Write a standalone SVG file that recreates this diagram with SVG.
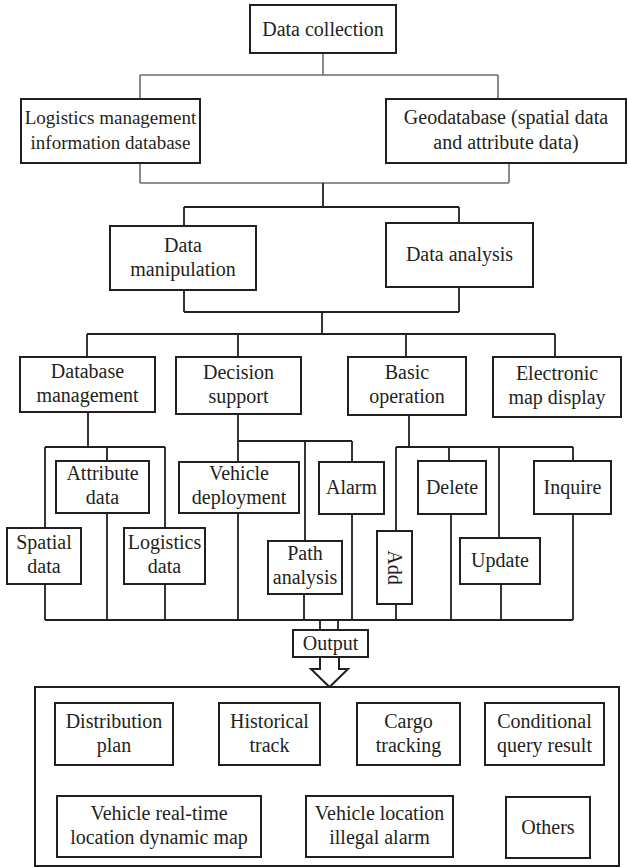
<svg xmlns="http://www.w3.org/2000/svg" width="629" height="867" viewBox="0 0 629 867">
<style>
.b{fill:#fff;stroke:#231f20;stroke-width:2}
.t{font-family:"Liberation Serif","Times New Roman",serif;font-size:20px;fill:#231f20;text-anchor:middle}
.s{font-size:19px}
.c{fill:none;stroke:#231f20;stroke-width:1.8}
.g{fill:none;stroke:#6d6e71;stroke-width:1.6}
</style>
<rect width="629" height="867" fill="#fff"/>
<g id="connectors">
<path class="g" d="M323 53V75M140 75H498M140 75V99M498 75V99"/>
<path class="g" d="M140 163V183M509 163V183M140 183H509"/>
<path class="c" d="M323 183V207M184 207H459M184 207V226M459 207V223"/>
<path class="c" d="M184 290V312M459 287V312M184 312H459M322 312V334"/>
<path class="c" d="M87 334H555M87 334V357M238 334V357M406 334V357M555 334V357"/>
<path class="c" d="M88 412V447M45 447H165M45 447V528M107 447V461M165 447V528"/>
<path class="c" d="M45 584V620M107 513V620M165 584V620"/>
<path class="c" d="M238 414V462M238 441H352M305 441V541M352 441V462M238 513V620M304 594V620M352 514V620"/>
<path class="c" d="M409 415V447M396 447H573M396 447V531M449 447V461M499 447V538M573 447V461"/>
<path class="c" d="M396 604V620M451 514V620M501 584V620M573 514V620"/>
<path class="c" d="M45 620H573M320 620V630M338 620V630"/>
<polygon class="b" points="320,657 339,657 339,669 348,669 329.5,687 311,669 320,669"/>
</g>
<g id="data-collection"><rect class="b" x="250" y="5" width="146" height="48"/><text class="t" x="323" y="36">Data collection</text></g>
<g id="logistics-db"><rect class="b" x="21" y="99" width="179" height="64"/><text class="t s" x="110.5" y="124">Logistics management</text><text class="t s" x="110.5" y="149">information database</text></g>
<g id="geodatabase"><rect class="b" x="386" y="99" width="240" height="64"/><text class="t" x="506" y="124">Geodatabase (spatial data</text><text class="t" x="506" y="149">and attribute data)</text></g>
<g id="data-manipulation"><rect class="b" x="110" y="226" width="146" height="64"/><text class="t" x="183" y="252">Data</text><text class="t" x="183" y="276">manipulation</text></g>
<g id="data-analysis"><rect class="b" x="386" y="223" width="147" height="64"/><text class="t" x="459.5" y="261">Data analysis</text></g>
<g id="database-management"><rect class="b" x="20" y="357" width="135" height="55"/><text class="t" x="87.5" y="378">Database</text><text class="t" x="87.5" y="402">management</text></g>
<g id="decision-support"><rect class="b" x="176" y="357" width="125" height="57"/><text class="t" x="238.5" y="379">Decision</text><text class="t" x="238.5" y="403">support</text></g>
<g id="basic-operation"><rect class="b" x="348" y="357" width="118" height="58"/><text class="t" x="407" y="379">Basic</text><text class="t" x="407" y="403">operation</text></g>
<g id="electronic-map"><rect class="b" x="493" y="357" width="128" height="60"/><text class="t" x="557" y="380">Electronic</text><text class="t" x="557" y="404">map display</text></g>
<g id="attribute-data"><rect class="b" x="56" y="461" width="93" height="52"/><text class="t" x="102.5" y="480">Attribute</text><text class="t" x="102.5" y="504">data</text></g>
<g id="spatial-data"><rect class="b" x="7" y="528" width="74" height="56"/><text class="t" x="44" y="549">Spatial</text><text class="t" x="44" y="573">data</text></g>
<g id="logistics-data"><rect class="b" x="124" y="528" width="81" height="56"/><text class="t" x="164.5" y="549">Logistics</text><text class="t" x="164.5" y="573">data</text></g>
<g id="vehicle-deployment"><rect class="b" x="179" y="462" width="120" height="51"/><text class="t" x="239" y="480">Vehicle</text><text class="t" x="239" y="504">deployment</text></g>
<g id="path-analysis"><rect class="b" x="268" y="541" width="74" height="53"/><text class="t" x="305" y="560">Path</text><text class="t" x="305" y="584">analysis</text></g>
<g id="alarm"><rect class="b" x="319" y="462" width="65" height="52"/><text class="t" x="351.5" y="494">Alarm</text></g>
<g id="add"><rect class="b" x="377" y="531" width="35" height="73"/><text class="t" transform="translate(394.5 567.5) rotate(90)" x="0" y="6.5">Add</text></g>
<g id="delete"><rect class="b" x="418" y="461" width="68" height="53"/><text class="t" x="452" y="494">Delete</text></g>
<g id="update"><rect class="b" x="460" y="538" width="80" height="46"/><text class="t" x="500" y="567">Update</text></g>
<g id="inquire"><rect class="b" x="534" y="461" width="77" height="53"/><text class="t" x="572.5" y="494">Inquire</text></g>
<g id="output"><rect class="b" x="293" y="630" width="75" height="27"/><text class="t" x="330.5" y="650">Output</text></g>
<g id="output-panel"><rect class="b" x="35" y="687" width="584" height="179"/></g>
<g id="distribution-plan"><rect class="b" x="55" y="703" width="118" height="62"/><text class="t" x="114" y="728">Distribution</text><text class="t" x="114" y="752">plan</text></g>
<g id="historical-track"><rect class="b" x="219" y="703" width="101" height="62"/><text class="t" x="269.5" y="728">Historical</text><text class="t" x="269.5" y="752">track</text></g>
<g id="cargo-tracking"><rect class="b" x="357" y="703" width="103" height="62"/><text class="t" x="408.5" y="728">Cargo</text><text class="t" x="408.5" y="752">tracking</text></g>
<g id="conditional-query"><rect class="b" x="485" y="703" width="119" height="62"/><text class="t" x="544.5" y="728">Conditional</text><text class="t" x="544.5" y="752">query result</text></g>
<g id="vehicle-realtime"><rect class="b" x="57" y="796" width="204" height="61"/><text class="t" x="159" y="820">Vehicle real-time</text><text class="t" x="159" y="844">location dynamic map</text></g>
<g id="vehicle-illegal"><rect class="b" x="306" y="796" width="147" height="61"/><text class="t" x="379.5" y="820">Vehicle location</text><text class="t" x="379.5" y="844">illegal alarm</text></g>
<g id="others"><rect class="b" x="506" y="797" width="84" height="61"/><text class="t" x="548" y="834">Others</text></g>
</svg>
